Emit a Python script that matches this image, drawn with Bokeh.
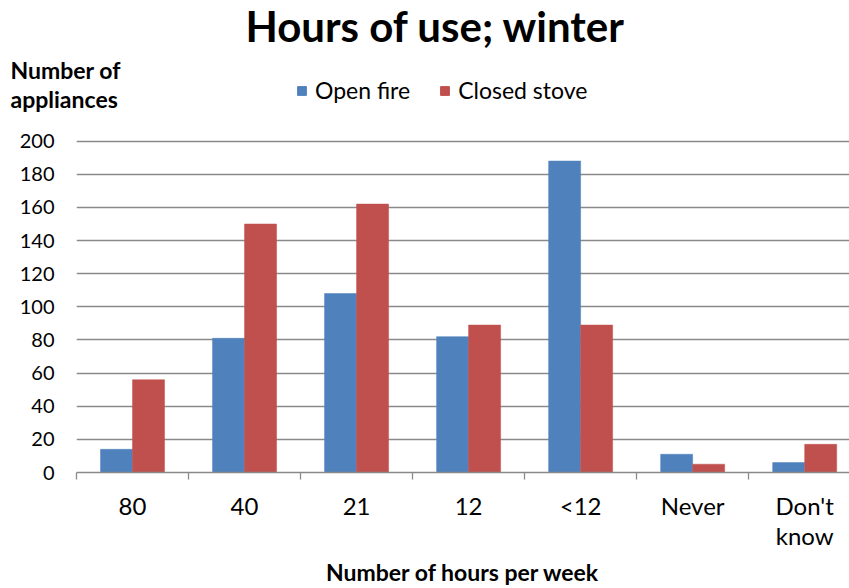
from bokeh.plotting import figure
from bokeh.layouts import column, row
from bokeh.models import ColumnDataSource, Range1d, FixedTicker, Label, Legend, LegendItem
from bokeh.embed import file_html
from bokeh.resources import INLINE

categories = ["80", "40", "21", "12", "<12", "Never", "Don't\nknow"]
open_fire = [14, 81, 108, 82, 188, 11, 6]
closed_stove = [56, 150, 162, 89, 89, 5, 17]
y_ticks = [0, 20, 40, 60, 80, 100, 120, 140, 160, 180, 200]

FONT = "Lato"
BLUE = "#4F81BD"
RED = "#C0504D"
GRID = "#8a8a8a"

n = len(categories)
centers = [i + 0.5 for i in range(n)]
bw = 0.2857

src = ColumnDataSource(dict(
    xo=[c - bw / 2 for c in centers],
    xc=[c + bw / 2 for c in centers],
    of=open_fire,
    cs=closed_stove,
))

W, H = 849, 588
HH = 125          # header height (title, y-axis title, legend)
MH = H - HH       # main chart height
FB, FL = 472, 76  # frame bottom / left in page pixels

# ---------- header ----------
hdr = figure(width=W, height=HH, output_backend="svg", toolbar_location=None,
             x_range=Range1d(0, W), y_range=Range1d(0, HH),
             x_axis_location=None, y_axis_location=None,
             min_border=0, outline_line_color=None)
hdr.grid.visible = False
dummy = ColumnDataSource(dict(x=[-100], top=[0]))
h1 = hdr.vbar(x="x", top="top", width=1, source=dummy, fill_color=BLUE, line_color=BLUE)
h2 = hdr.vbar(x="x", top="top", width=1, source=dummy, fill_color=RED, line_color=RED)

hdr.add_layout(Label(x=435, y=HH - 25, text="Hours of use; winter", text_font=FONT,
                     text_font_style="bold", text_font_size="42px", text_align="center",
                     text_baseline="middle", text_color="#000000"))
hdr.add_layout(Label(x=10, y=HH - 55, text="Number of\nappliances", text_font=FONT,
                     text_font_style="bold", text_font_size="23px", text_align="left",
                     text_baseline="top", text_color="#000000", text_line_height=1.05))
legend = Legend(items=[LegendItem(label="Open fire", renderers=[h1]),
                       LegendItem(label="Closed stove", renderers=[h2])],
                orientation="horizontal", location=(296, HH - 90 - 14),
                label_text_font=FONT, label_text_font_size="23px", label_text_color="#000000",
                glyph_width=11, glyph_height=11, spacing=29, label_standoff=8,
                background_fill_alpha=0, border_line_color=None, padding=0, margin=0)
hdr.add_layout(legend, "center")

# ---------- main chart ----------
p = figure(width=W, height=MH, output_backend="svg", toolbar_location=None,
           x_range=Range1d(0, 6.90), y_range=Range1d(0, 201.6),
           min_border_left=FL, min_border_right=0, min_border_top=138 - HH,
           min_border_bottom=H - FB, outline_line_color=None)

p.vbar(x="xo", top="of", width=bw, source=src, fill_color=BLUE, line_color=BLUE, line_width=0.5)
p.vbar(x="xc", top="cs", width=bw, source=src, fill_color=RED, line_color=RED, line_width=0.5)

p.yaxis.ticker = FixedTicker(ticks=y_ticks)
p.yaxis.axis_line_color = None
p.yaxis.major_tick_line_color = None
p.yaxis.major_tick_out = 0
p.yaxis.minor_tick_line_color = None
p.yaxis.minor_tick_out = 0
p.yaxis.major_label_standoff = 22
p.yaxis.major_label_text_font = FONT
p.yaxis.major_label_text_font_size = "20px"
p.yaxis.major_label_text_color = "#000000"

p.xaxis.ticker = FixedTicker(ticks=centers, minor_ticks=list(range(n + 1)))
p.xaxis.major_label_overrides = {c: lab for c, lab in zip(centers, categories)}
p.xaxis.major_tick_line_color = None
p.xaxis.major_tick_out = 0
p.xaxis.major_tick_in = 0
p.xaxis.minor_tick_in = 0
p.xaxis.minor_tick_out = 7
p.xaxis.minor_tick_line_color = GRID
p.xaxis.minor_tick_line_width = 1.3
p.xaxis.axis_line_color = GRID
p.xaxis.axis_line_width = 1.5
p.xaxis.major_label_standoff = 11
p.xaxis.major_label_text_font = FONT
p.xaxis.major_label_text_font_size = "24px"
p.xaxis.major_label_text_line_height = 1.05
p.xaxis.major_label_text_color = "#000000"
p.xaxis.axis_label = "Number of hours per week"
p.xaxis.axis_label_text_font = FONT
p.xaxis.axis_label_text_font_style = "bold"
p.xaxis.axis_label_text_font_size = "23px"
p.xaxis.axis_label_text_color = "#000000"
p.xaxis.axis_label_standoff = 5

p.xgrid.grid_line_color = None
p.ygrid.ticker = FixedTicker(ticks=y_ticks[1:])
p.ygrid.grid_line_color = GRID
p.ygrid.grid_line_width = 1.3

layout = column(row(hdr), p, spacing=0)
open("out.html", "w").write(file_html(layout, INLINE))
